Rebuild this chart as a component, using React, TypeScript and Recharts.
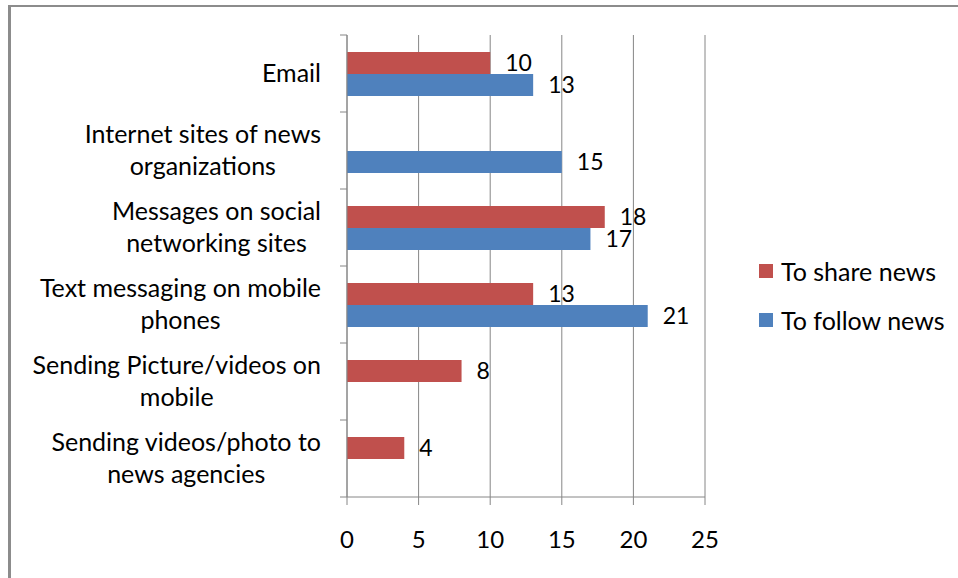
import React from "react";
import {
  BarChart,
  Bar,
  XAxis,
  YAxis,
  CartesianGrid,
  LabelList,
  Legend,
} from "recharts";

const FONT = "Lato, 'Open Sans', sans-serif";
const GRID = "#868686";

// categories, top to bottom ("\n" marks the line break of the label)
const categories = [
  "Email",
  "Internet sites of news\norganizations",
  "Messages on social\nnetworking sites",
  "Text messaging on mobile\nphones",
  "Sending Picture/videos on\nmobile",
  "Sending videos/photo to\nnews agencies",
];
const shareNews = [10, null, 18, 13, 8, 4];
const followNews = [13, 15, 17, 21, null, null];
const xTicks = [0, 5, 10, 15, 20, 25];
const seriesOrder = ["To share news", "To follow news"];

const data = categories.map((name, i) => ({
  name,
  share: shareNews[i],
  follow: followNews[i],
}));

const LINE_H = 32;
const TICK_MARGIN = 26;

const CategoryTick = (props: any) => {
  const { x, y, payload, index } = props;
  const lines = String(payload.value).split("\n");
  const w = 330;
  const h = lines.length * LINE_H;
  const half = payload.offset > 0 ? payload.offset : 38.5;
  const axisX = x + TICK_MARGIN;
  return (
    <g>
      {/* tick marks sit on the band edges, not the band centre */}
      <line x1={axisX - 7} x2={axisX} y1={y - half} y2={y - half} stroke={GRID} />
      {index === categories.length - 1 && (
        <line x1={axisX - 7} x2={axisX} y1={y + half} y2={y + half} stroke={GRID} />
      )}
      <foreignObject x={x - w} y={y - h / 2 - 2} width={w} height={h}>
        <div
          style={{
            display: "flex",
            justifyContent: "flex-end",
            fontFamily: FONT,
            fontSize: 25,
            lineHeight: `${LINE_H}px`,
            color: "#000",
          }}
        >
          <div style={{ textAlign: "center", whiteSpace: "nowrap" }}>
            {lines.map((l, i) => (
              <div key={i}>{l}</div>
            ))}
          </div>
        </div>
      </foreignObject>
    </g>
  );
};

const renderLegend = (props: any) => {
  const payload = [...props.payload].sort(
    (a: any, b: any) => seriesOrder.indexOf(a.value) - seriesOrder.indexOf(b.value)
  );
  return (
    <div style={{ fontFamily: FONT, fontSize: 25, color: "#000" }}>
      {payload.map((entry: any) => (
        <div
          key={entry.value}
          style={{ display: "flex", alignItems: "center", height: 49 }}
        >
          <span
            style={{
              display: "inline-block",
              width: 14,
              height: 14,
              background: entry.color,
              marginRight: 8,
            }}
          />
          <span>{entry.value}</span>
        </div>
      ))}
    </div>
  );
};

export default function App() {
  return (
    <div
      style={{
        position: "absolute",
        left: 0,
        top: 0,
        width: 958,
        height: 578,
        background: "#fff",
        overflow: "hidden",
      }}
    >
      {/* frame of the original picture */}
      <div
        style={{
          position: "absolute",
          left: 8,
          top: 5,
          width: 960,
          height: 600,
          borderTop: "2px solid #8c8c8c",
          borderLeft: "3px solid #8c8c8c",
        }}
      />
      <BarChart
        width={958}
        height={578}
        data={data}
        layout="vertical"
        margin={{ top: 35, right: 253, left: 17, bottom: 21 }}
        barSize={22}
        barGap={0}
      >
        <CartesianGrid horizontal={false} stroke={GRID} />
        <XAxis
          type="number"
          domain={[0, 25]}
          ticks={xTicks}
          height={60}
          tickSize={8}
          tickMargin={26}
          axisLine={{ stroke: GRID }}
          tickLine={{ stroke: GRID }}
          tick={{ fill: "#000", fontSize: 24, fontFamily: FONT }}
        />
        <YAxis
          type="category"
          dataKey="name"
          width={330}
          interval={0}
          tickSize={0}
          tickMargin={TICK_MARGIN}
          tickLine={false}
          axisLine={{ stroke: GRID }}
          tick={<CategoryTick />}
        />
        <Legend
          layout="horizontal"
          verticalAlign="middle"
          align="center"
          content={renderLegend}
          wrapperStyle={{ left: 759, top: 246, width: 200 }}
        />
        <Bar
          dataKey="share"
          name="To share news"
          fill="#C0504D"
          isAnimationActive={false}
        >
          <LabelList
            dataKey="share"
            position="right"
            offset={15}
            fill="#000"
            fontSize={23}
            fontFamily={FONT}
          />
        </Bar>
        <Bar
          dataKey="follow"
          name="To follow news"
          fill="#4F81BD"
          isAnimationActive={false}
        >
          <LabelList
            dataKey="follow"
            position="right"
            offset={15}
            fill="#000"
            fontSize={23}
            fontFamily={FONT}
          />
        </Bar>
      </BarChart>
    </div>
  );
}
